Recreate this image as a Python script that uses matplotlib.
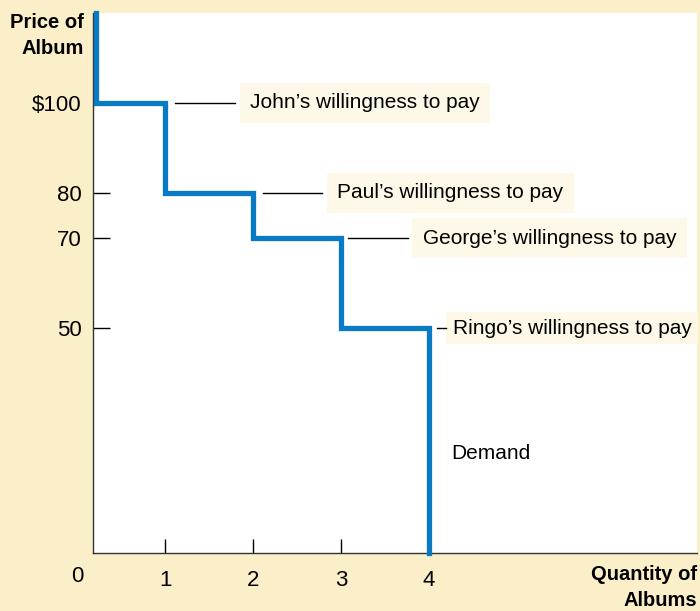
import matplotlib
matplotlib.use("Agg")
import matplotlib.pyplot as plt

plt.rcParams['font.family'] = ['Liberation Sans', 'DejaVu Sans']

# Demand schedule: each buyer's willingness to pay
buyers = ["John", "Paul", "George", "Ringo"]
prices = [100, 80, 70, 50]
quantities = [1, 2, 3, 4]

x_ticks = [1, 2, 3, 4]
y_ticks = [50, 70, 80, 100]
y_tick_labels = ["50", "70", "80", "$100"]

BG = "#FBEFC9"
BLUE = "#0A7AC4"
LABEL_BG = "#FDF8E8"

fig = plt.figure(figsize=(7.0, 6.11), dpi=100, facecolor=BG)
ax = fig.add_axes([93 / 700, 58 / 611, 604 / 700, 540 / 611])
ax.set_facecolor("white")

x_min, x_max = 0.18, 7.05
y_max = 120
ax.set_xlim(x_min, x_max)
ax.set_ylim(0, y_max)

# Step-shaped demand curve built from the schedule
xs = [x_min + 0.035, x_min + 0.035]
ys = [y_max, prices[0]]
for i, q in enumerate(quantities):
    xs += [q, q]
    nxt = prices[i + 1] if i + 1 < len(prices) else 0
    ys += [prices[i], nxt]
ax.plot(xs, ys, color=BLUE, lw=3.8, solid_joinstyle="miter", clip_on=False, zorder=3)

# Leader lines and labels
leader_start = [1.11, 2.11, 3.08, 4.09]
leader_end = [1.80, 2.78, 3.76, 4.20]
label_x = [1.966, 2.955, 3.93, 4.27]
label_pad = [0.5, 0.5, 0.5, 0.3]
for name, p, a, b, lx, pad in zip(buyers, prices, leader_start, leader_end,
                                  label_x, label_pad):
    ax.plot([a, b], [p, p], color="black", lw=1.0, zorder=5)
    ax.text(lx, p, f"{name}\u2019s willingness to pay", fontsize=15, va="center",
            ha="left", zorder=4,
            bbox=dict(boxstyle=f"square,pad={pad}", fc=LABEL_BG, ec="none"))

ax.text(4.26, 22.2, "Demand", fontsize=15, va="center", ha="left")

# Axes styling
for s in ["top", "right"]:
    ax.spines[s].set_visible(False)
for s in ["left", "bottom"]:
    ax.spines[s].set_linewidth(1.0)
    ax.spines[s].set_color("#333333")

ax.set_yticks(y_ticks)
ax.set_yticklabels(y_tick_labels)
ax.set_xticks(x_ticks)
ax.set_xticklabels([str(v) for v in x_ticks])
ax.tick_params(axis="y", direction="in", length=12, width=1.0, labelsize=16, pad=8)
ax.tick_params(axis="x", direction="in", length=10, width=1.0, labelsize=16, pad=12)
ax.text(0, -5.2, "0", fontsize=16, ha="center", va="center", clip_on=False)

fig.text(84 / 700, 1 - 22 / 611, "Price of", fontsize=14.5, fontweight="bold",
         ha="right", va="center")
fig.text(84 / 700, 1 - 48 / 611, "Album", fontsize=14.5, fontweight="bold",
         ha="right", va="center")
fig.text(697 / 700, 1 - 575 / 611, "Quantity of", fontsize=14.5, fontweight="bold",
         ha="right", va="center")
fig.text(697 / 700, 1 - 600 / 611, "Albums", fontsize=14.5, fontweight="bold",
         ha="right", va="center")

fig.savefig("out.png", dpi=100, facecolor=BG)
